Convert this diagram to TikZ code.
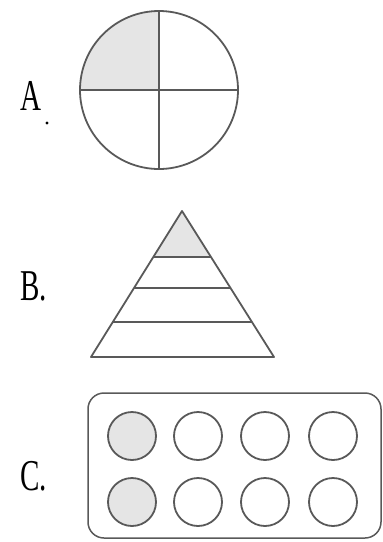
\documentclass[tikz,border=0pt]{standalone}
\usepackage{fontspec}
\newfontfamily\labfont{Liberation Serif}
\begin{document}
\begin{tikzpicture}[x=1pt,y=-1pt,
  outl/.style={draw=black!65,line width=1.8pt},
  grayfill/.style={fill=black!10},
  lab/.style={inner sep=0pt,anchor=base west,font=\labfont\fontsize{44}{44}\selectfont,xscale=0.66}]
\useasboundingbox (0,0) rectangle (383,542);
% A
\node[lab] (la) at (20,110) {A};
\fill[black] (47,123) circle (1.6pt);
\fill[grayfill] (159,90) -- (80,90) arc[start angle=180,end angle=270,radius=79] -- cycle;
\draw[outl] (159,90) circle (79);
\draw[outl] (80,90) -- (238,90);
\draw[outl] (159,11) -- (159,169);
% B
\node[lab] (lb) at (20,300) {B.};
\fill[grayfill] (182,211) -- (153,257) -- (211,257) -- cycle;
\draw[outl,line join=round] (182,211) -- (91,357) -- (274,357) -- cycle;
\draw[outl] (153,257) -- (211,257);
\draw[outl] (134,288) -- (230,288);
\draw[outl] (112,322) -- (252,322);
% C
\node[lab] (lc) at (20,490) {C.};
\draw[outl,line width=1.5pt,rounded corners=16pt] (88,393) rectangle (381,538);
\foreach \y in {436,502}{
  \foreach \x [count=\i] in {132,198,265,333}{
    \ifnum\i=1
      \draw[outl,grayfill] (\x,\y) circle (24);
    \else
      \draw[outl] (\x,\y) circle (24);
    \fi
  }
}
\end{tikzpicture}
\end{document}
